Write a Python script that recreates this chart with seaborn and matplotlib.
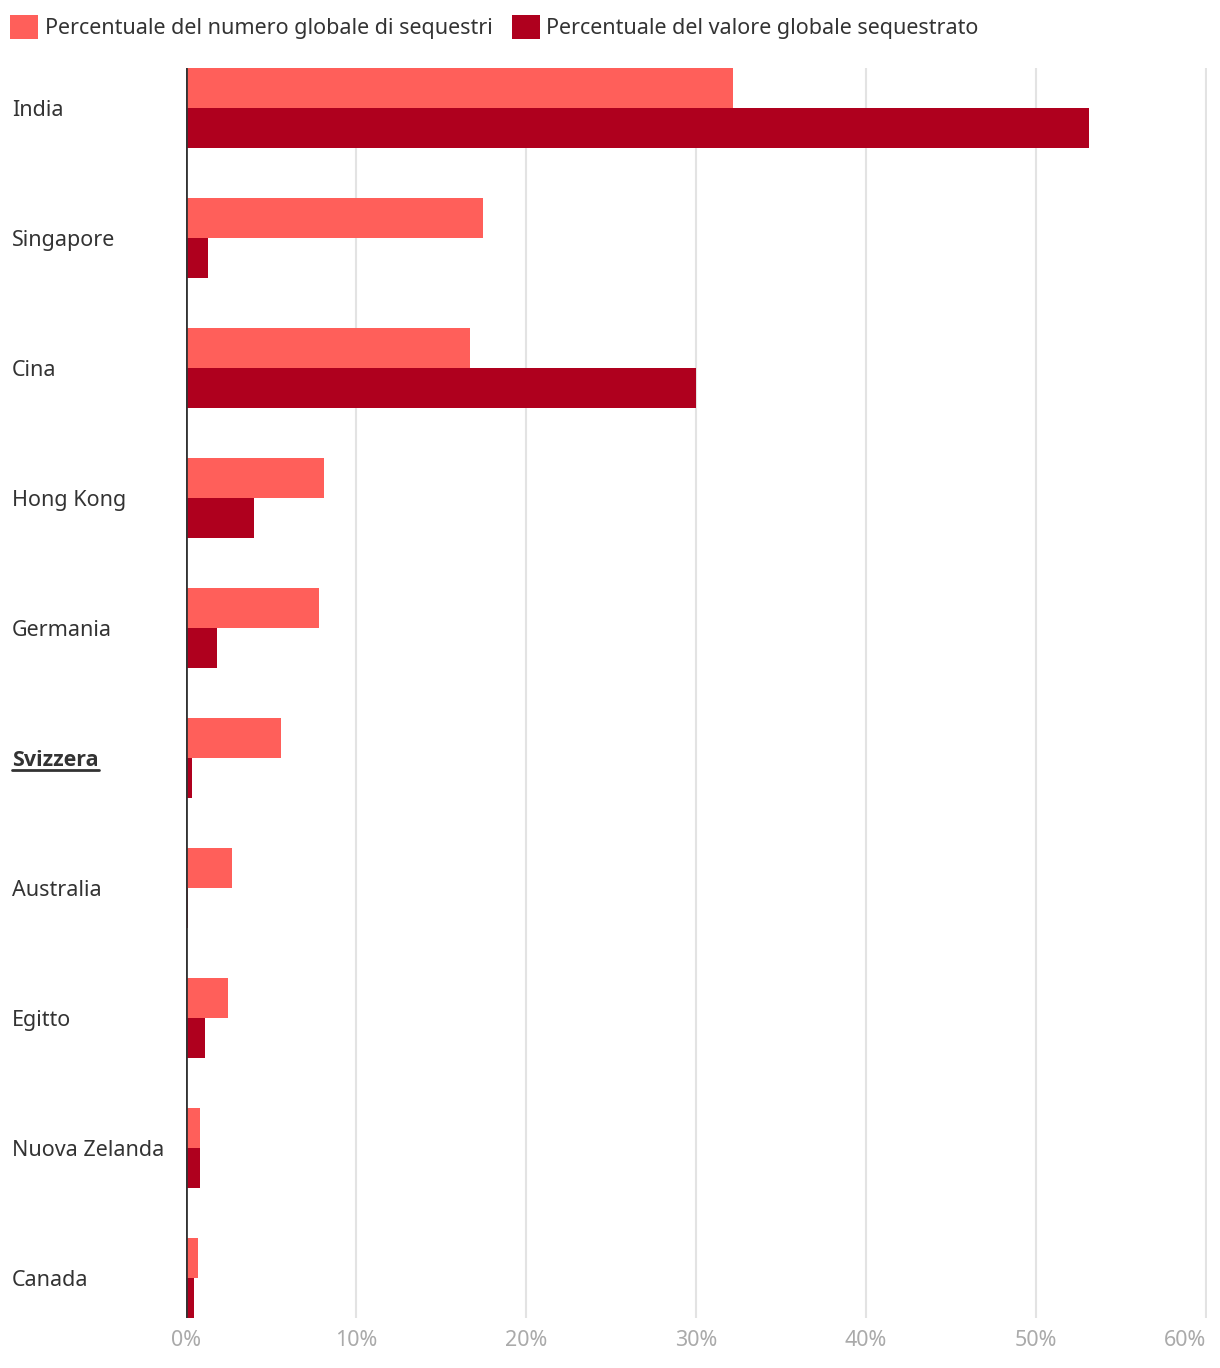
import matplotlib
matplotlib.use("Agg")
import matplotlib.pyplot as plt
import seaborn as sns
import pandas as pd
from matplotlib.patches import Patch
from matplotlib.lines import Line2D

countries = ["India", "Singapore", "Cina", "Hong Kong", "Germania", "Svizzera",
             "Australia", "Egitto", "Nuova Zelanda", "Canada"]
num_share = [32.2, 17.5, 16.7, 8.1, 7.8, 5.6, 2.7, 2.5, 0.8, 0.7]
val_share = [53.1, 1.3, 30.0, 4.0, 1.8, 0.35, 0.1, 1.1, 0.8, 0.45]
series_names = ["Percentuale del numero globale di sequestri",
                "Percentuale del valore globale sequestrato"]
colors = ["#FF5F5A", "#AF001E"]
xticks = [0, 10, 20, 30, 40, 50, 60]
xtick_labels = ["0%", "10%", "20%", "30%", "40%", "50%", "60%"]

df = pd.DataFrame({
    "country": countries * 2,
    "value": num_share + val_share,
    "series": [series_names[0]] * len(countries) + [series_names[1]] * len(countries),
})

sns.set_theme(style="white")
plt.rcParams["font.family"] = ["Noto Sans", "DejaVu Sans"]

FS = 15.5
W, H = 1220, 1368
fig = plt.figure(figsize=(W / 100, H / 100), dpi=100)
x0, x1 = 186, 1207
y0, y1 = 68, 1318
ax = fig.add_axes([x0 / W, 1 - y1 / H, (x1 - x0) / W, (y1 - y0) / H])

sns.barplot(data=df, y="country", x="value", hue="series", orient="h",
            palette=colors, width=0.615, gap=0, ax=ax, legend=False,
            saturation=1, linewidth=0, zorder=3)

ax.set_xlim(0, 60.06)
ax.set_ylim(9.3077, -0.3077)
ax.set_xlabel("")
ax.set_ylabel("")
for s in ax.spines.values():
    s.set_visible(False)
ax.set_xticks(xticks)
ax.set_xticklabels(xtick_labels)
ax.grid(axis="x", color="#e3e3e3", linewidth=1.5, zorder=0)
ax.grid(axis="y", visible=False)
ax.axvline(0, color="#333333", linewidth=2, zorder=4)
ax.tick_params(axis="x", length=0, pad=9, labelsize=FS, labelcolor="#aaaaaa")
ax.tick_params(axis="y", length=0, pad=(x0 - 12) * 0.72, labelsize=FS, labelcolor="#333333")
xl = ax.get_xticklabels()
xl[-1].set_horizontalalignment("right")
xl[-1].set_x(60.3)
ax.set_yticks(range(len(countries)))
ax.set_yticklabels(countries)
for lab in ax.get_yticklabels():
    lab.set_horizontalalignment("left")
    if lab.get_text() == "Svizzera":
        lab.set_fontfamily(["Open Sans", "DejaVu Sans"])
        lab.set_fontweight("bold")

# legend
handles = [Patch(facecolor=c, edgecolor="none") for c in colors]
fig.legend(handles, series_names, loc="upper left", bbox_to_anchor=(4 / W, 1 - 9 / H),
           ncol=2, frameon=False, fontsize=FS, handlelength=1.3, handleheight=1.3,
           handletextpad=0.3, columnspacing=0.9, borderaxespad=0, borderpad=0.3,
           labelcolor="#333333")

# underline for Svizzera
fig.canvas.draw()
renderer = fig.canvas.get_renderer()
for lab in ax.get_yticklabels():
    if lab.get_text() == "Svizzera":
        bb = lab.get_window_extent(renderer)
        yline = bb.y0 + 1
        fig.add_artist(Line2D([bb.x0 / W, bb.x1 / W], [yline / H, yline / H],
                              color="#333333", linewidth=2))

fig.savefig("out.png", dpi=100)
